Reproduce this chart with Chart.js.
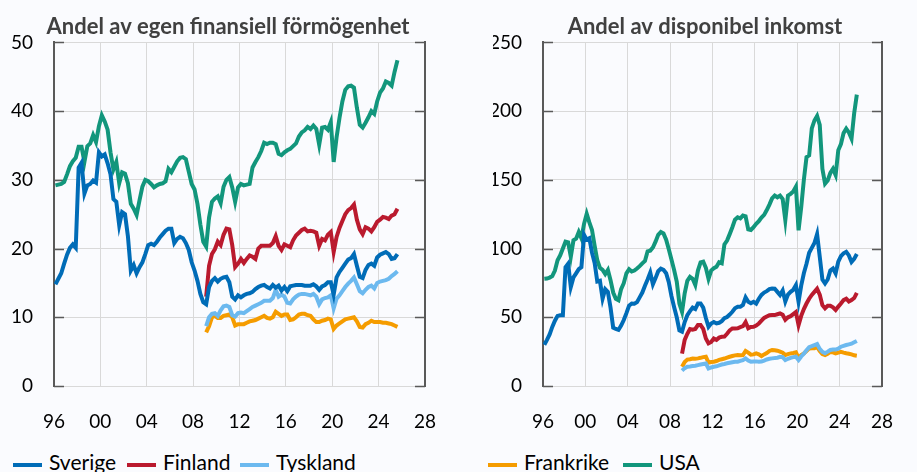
<!DOCTYPE html>
<html>
<head>
<meta charset="UTF-8">
<title>Andel av egen finansiell förmögenhet</title>
<script src="https://cdn.jsdelivr.net/npm/chart.js@4/dist/chart.umd.min.js"></script>
<style>
  body { margin: 0; background: #fafbfe; width: 917px; height: 472px; overflow: hidden; position: relative; font-family: Lato, sans-serif; }
  .box { position: absolute; top: 0; height: 440px; }
  .lg-line { position: absolute; top: 463px; width: 29px; height: 4px; }
  .lg-txt { position: absolute; top: 451px; font-size: 21px; line-height: 21px; color: #000; white-space: nowrap; }
</style>
</head>
<body>
<div class="box" style="left:0; width:460px"><canvas id="finCanvas"></canvas></div>
<div class="box" style="left:460px; width:457px"><canvas id="inkCanvas"></canvas></div>
<div id="legend"></div>
<script>

// kvartalsdata, första punkten 1996 kv1
var firstQuarter = 1996.125;
var xTickLabels = ['96', '00', '04', '08', '12', '16', '20', '24', '28'];
var seriesNames = ['Sverige', 'Finland', 'Tyskland', 'Frankrike', 'USA'];
var seriesColors = ['#006cb7', '#ba1a2e', '#6cb9ef', '#f59c00', '#12967c'];
var euStartIndex = 52; // Finland, Tyskland, Frankrike börjar 2009 kv1

// Andel av egen finansiell förmögenhet
var sverigeFin = [
  14.8, 15.6, 16.4, 17.8, 19.1, 20.1, 20.6, 20.1, 31.8, 32.5, 28.0, 29.2,
  29.4, 29.9, 29.6, 34.0, 33.4, 33.7, 32.4, 30.8, 27.2, 26.8, 23.4, 25.3,
  25.0, 21.8, 16.8, 17.6, 16.4, 17.3, 18.0, 19.2, 20.5, 20.7, 20.5, 21.0,
  21.6, 22.1, 22.6, 22.9, 22.9, 20.8, 21.4, 21.7, 21.5, 20.8, 19.8, 18.0,
  16.8, 15.3, 13.4, 12.2, 11.9, 14.4, 15.3, 15.7, 15.2, 15.6, 15.8, 15.9,
  15.1, 13.0, 12.6, 13.2, 12.9, 13.2, 13.4, 13.5, 13.7, 14.1, 14.4, 14.6,
  14.7, 14.4, 14.2, 14.7, 14.3, 14.6, 13.9, 14.4, 13.8, 14.5, 14.6, 14.7,
  14.7, 14.7, 14.6, 14.6, 14.6, 14.8, 14.5, 14.0, 14.5, 14.7, 15.1, 15.1,
  13.3, 15.8, 16.6, 17.2, 17.8, 18.4, 18.6, 19.2, 17.5, 15.9, 15.7, 16.9,
  17.6, 17.8, 17.5, 18.7, 19.1, 19.3, 19.5, 19.2, 18.5, 18.6, 19.2
];
var finlandFin = [
  13.0, 17.5, 19.2, 19.9, 21.0, 20.5, 22.0, 22.9, 22.8, 20.5, 17.3, 17.8,
  18.5, 17.9, 18.5, 19.0, 18.8, 18.5, 20.0, 20.4, 20.4, 20.4, 20.4, 20.8,
  21.8, 20.4, 19.8, 20.6, 20.4, 20.2, 21.2, 21.9, 22.3, 22.7, 22.9, 22.5,
  22.6, 22.5, 22.3, 20.4, 21.4, 21.2, 22.0, 22.4, 19.5, 21.7, 23.0, 24.0,
  25.0, 25.6, 25.9, 26.4, 24.2, 22.8, 22.1, 23.1, 22.9, 22.5, 23.1, 23.9,
  24.2, 24.6, 24.5, 24.3, 24.8, 25.0, 25.8
];
var tysklandFin = [
  8.7, 10.0, 10.5, 10.6, 10.2, 11.0, 11.6, 11.7, 11.5, 10.3, 10.1, 10.6,
  10.7, 10.6, 10.9, 11.2, 11.5, 11.7, 11.9, 12.1, 12.4, 12.4, 12.4, 12.8,
  14.0, 13.0, 13.3, 13.0, 12.1, 12.0, 12.6, 13.0, 13.3, 13.4, 13.4, 13.3,
  13.2, 13.4, 13.0, 11.9, 12.6, 12.8, 12.9, 13.2, 11.3, 12.7, 13.2, 13.8,
  14.4, 14.9, 15.3, 15.8, 14.8, 13.8, 13.5, 14.0, 14.4, 14.6, 14.2, 15.0,
  15.2, 15.3, 15.4, 15.6, 16.0, 16.3, 16.7
];
var frankrikeFin = [
  7.8, 8.7, 10.0, 10.2, 9.9, 9.9, 10.2, 10.3, 10.4, 10.0, 8.8, 9.0,
  9.0, 9.0, 9.2, 9.4, 9.5, 9.6, 9.8, 10.0, 10.2, 9.9, 9.8, 10.0,
  10.8, 10.5, 10.2, 10.4, 10.4, 9.6, 9.7, 10.0, 10.4, 10.5, 10.5, 10.3,
  10.2, 9.7, 9.3, 9.3, 9.5, 9.6, 9.8, 9.7, 8.3, 8.8, 9.1, 9.4,
  9.7, 9.8, 9.9, 10.0, 9.4, 8.6, 8.5, 9.0, 9.2, 9.5, 9.3, 9.3,
  9.3, 9.2, 9.2, 9.1, 9.0, 8.8, 8.6
];
var usaFin = [
  29.2, 29.3, 29.4, 29.7, 30.8, 32.0, 32.7, 33.2, 34.8, 34.8, 32.6, 34.9,
  35.3, 36.5, 35.5, 37.8, 39.4, 38.5, 37.3, 34.0, 31.5, 32.6, 29.5, 31.1,
  30.9, 29.5, 26.5, 25.8, 24.9, 27.0, 29.0, 30.0, 29.8, 29.4, 28.9, 29.2,
  29.4, 29.5, 29.8, 31.6, 31.1, 31.9, 32.7, 33.2, 33.3, 33.0, 31.2, 29.4,
  28.6, 26.5, 23.5, 21.0, 20.3, 24.5, 26.8, 27.3, 27.6, 26.6, 29.0, 30.0,
  30.4, 28.9, 26.8, 28.9, 29.4, 29.2, 29.3, 29.4, 31.8, 32.6, 33.3, 34.2,
  35.4, 35.2, 35.4, 35.4, 35.2, 33.8, 33.6, 34.0, 34.3, 34.5, 34.9, 35.3,
  36.3, 36.9, 37.2, 37.7, 37.4, 37.9, 37.4, 35.1, 37.6, 37.7, 37.3, 38.4,
  32.6, 36.2, 39.0, 41.4, 43.1, 43.6, 43.7, 43.4, 40.5, 38.0, 37.6, 38.3,
  39.1, 40.0, 39.6, 41.4, 42.7, 43.3, 44.3, 44.1, 43.7, 45.7, 47.4
];

// Andel av disponibel inkomst
var sverigeInk = [
  30.0, 33.5, 37.5, 43.0, 47.5, 51.0, 51.5, 51.5, 86.5, 89.0, 72.0, 79.0,
  82.0, 85.0, 86.5, 110.0, 106.5, 107.5, 97.0, 89.5, 76.0, 76.5, 63.6, 70.5,
  68.5, 57.0, 42.5, 41.5, 40.8, 44.0, 48.0, 53.0, 58.5, 60.0, 59.8, 61.0,
  64.5, 68.0, 73.0, 77.5, 82.5, 74.0, 78.5, 83.5, 85.4, 84.5, 82.0, 75.5,
  65.5, 57.5, 50.0, 40.5, 39.5, 46.5, 51.5, 54.5, 57.0, 56.0, 60.0, 60.0,
  57.0, 49.5, 43.1, 45.5, 46.5, 45.5, 46.0, 47.2, 49.3, 50.2, 52.0, 54.0,
  56.5, 57.6, 57.6, 59.0, 64.5, 61.3, 60.2, 61.3, 60.0, 63.5, 66.3, 68.0,
  69.0, 70.5, 70.9, 70.8, 68.5, 66.2, 69.5, 61.5, 66.5, 68.5, 70.0, 73.4,
  61.3, 73.0, 82.0, 89.0, 97.0, 100.5, 104.0, 110.5, 94.0, 77.5, 74.6, 77.5,
  84.0, 85.5, 82.0, 90.5, 94.5, 96.5, 97.6, 95.0, 90.3, 92.5, 96.0
];
var finlandInk = [
  23.5, 33.5, 38.0, 41.5, 41.0, 41.5, 44.3, 44.3, 41.5, 34.6, 31.0, 32.0,
  34.5, 33.6, 35.2, 35.8, 36.0, 38.0, 40.5, 41.9, 41.9, 42.0, 42.8, 43.5,
  46.5, 42.0, 43.0, 43.1, 44.0, 45.5, 47.5, 49.5, 50.5, 51.5, 51.6, 51.6,
  52.2, 52.8, 51.8, 48.2, 50.0, 50.8, 52.3, 53.8, 44.3, 51.0, 56.0, 60.0,
  63.5, 66.3, 68.5, 70.8, 66.5, 58.8, 56.5, 58.3, 58.3, 57.2, 55.3, 57.8,
  60.0, 62.5, 63.5, 61.5, 62.5, 64.0, 67.8
];
var tysklandInk = [
  11.2, 13.0, 14.0, 14.2, 14.5, 14.8, 15.2, 15.6, 16.0, 16.4, 12.8, 13.5,
  14.0, 14.3, 15.0, 15.6, 16.0, 16.5, 16.9, 17.3, 17.6, 17.7, 18.3, 18.8,
  20.1, 18.5, 17.7, 17.8, 17.9, 17.6, 17.8, 18.5, 19.3, 19.8, 20.1, 20.3,
  20.6, 21.2, 21.0, 18.9, 19.8, 20.5, 21.0, 21.3, 18.9, 21.5, 23.5, 26.0,
  28.3, 29.0, 29.8, 30.5, 27.0, 24.9, 23.9, 25.0, 26.2, 26.6, 26.5, 27.2,
  28.6, 29.2, 29.8, 30.3, 30.8, 31.8, 32.8
];
var frankrikeInk = [
  14.0, 17.5, 19.2, 19.5, 20.0, 19.8, 20.1, 20.5, 21.0, 21.3, 17.0, 17.5,
  17.7, 18.2, 19.0, 19.5, 20.0, 20.7, 21.3, 21.8, 22.3, 22.5, 22.3, 22.5,
  25.5, 24.3, 22.8, 23.0, 23.7, 23.0, 21.8, 23.0, 24.0, 25.5, 26.2, 26.0,
  25.7, 25.0, 24.2, 22.5, 23.2, 23.7, 24.0, 24.5, 20.5, 22.5, 23.7, 25.5,
  27.2, 27.4, 27.5, 28.4, 25.5, 23.2, 22.5, 23.5, 24.8, 24.5, 23.7, 24.3,
  24.9, 24.3, 23.8, 23.5, 23.0, 22.3, 22.0
];
var usaInk = [
  78.0, 78.2, 78.9, 80.0, 84.0, 91.5, 95.1, 100.0, 105.0, 104.5, 94.0, 106.0,
  107.2, 112.0, 107.5, 118.0, 125.3, 119.0, 113.5, 102.0, 91.5, 86.0, 84.5, 81.5,
  84.5, 77.0, 68.0, 63.4, 62.4, 70.5, 74.8, 82.0, 85.0, 83.3, 84.0, 85.5,
  87.2, 89.2, 91.0, 98.0, 98.5, 100.8, 105.0, 110.0, 112.0, 111.0, 106.5, 99.5,
  92.0, 84.5, 76.0, 60.0, 54.0, 67.5, 76.5, 79.4, 78.0, 73.5, 84.0, 90.0,
  90.5, 86.0, 78.0, 84.0, 85.7, 86.8, 90.0, 89.3, 103.0, 105.8, 110.5, 115.5,
  121.0, 122.8, 122.0, 124.0, 123.5, 114.0, 113.5, 115.5, 118.0, 120.0, 122.5, 124.5,
  128.0, 132.0, 136.5, 138.5, 137.3, 138.5, 136.0, 120.6, 138.5, 139.8, 141.5, 145.0,
  113.3, 130.0, 150.0, 166.5, 167.8, 187.5, 193.2, 196.5, 190.0, 158.0, 147.2, 149.5,
  155.0, 158.0, 153.5, 171.5, 176.0, 184.0, 187.2, 184.5, 180.0, 198.5, 212.0
];

function toPoints(values, startIndex) {
  return values.map(function(v, i) {
    return { x: firstQuarter + (startIndex + i) * 0.25, y: v };
  });
}

// korta mörka streck inåt vid y-ticks, båda sidor
var innerTicks = {
  id: 'innerTicks',
  beforeDatasetsDraw: function(chart) {
    var ctx = chart.ctx, area = chart.chartArea, ys = chart.scales.y;
    ctx.save();
    ctx.strokeStyle = '#595959';
    ctx.lineWidth = 1.5;
    ys.ticks.forEach(function(t) {
      var py = Math.round(ys.getPixelForValue(t.value)) + 0.5;
      ctx.beginPath();
      ctx.moveTo(area.left, py); ctx.lineTo(area.left + 10, py);
      ctx.moveTo(area.right - 10, py); ctx.lineTo(area.right, py);
      ctx.stroke();
    });
    ctx.restore();
  }
};

function makeChart(canvasId, titleText, yMax, yStep, seriesData, pad, yWidth, rightWidth) {
  var datasets = seriesData.map(function(s, i) {
    return {
      label: seriesNames[i],
      data: toPoints(s.values, s.start),
      borderColor: seriesColors[i],
      backgroundColor: seriesColors[i],
      borderWidth: 4,
      pointRadius: 0,
      tension: 0,
      fill: false
    };
  });
  return new Chart(document.getElementById(canvasId), {
    type: 'line',
    data: { datasets: datasets },
    plugins: [innerTicks],
    options: {
      responsive: true,
      maintainAspectRatio: false,
      animation: false,
      layout: { padding: pad },
      plugins: {
        legend: { display: false },
        tooltip: { enabled: false },
        title: {
          display: true,
          text: titleText,
          color: '#404040',
          font: { family: 'Lato', size: 22, weight: 'bold' },
          padding: { top: 14, bottom: 2 }
        }
      },
      scales: {
        x: {
          type: 'linear',
          min: 1996, max: 2028,
          grid: { color: '#d9d9d9', lineWidth: 1, drawTicks: false },
          border: { color: '#d9d9d9' },
          ticks: {
            stepSize: 4, padding: 24, color: '#000',
            font: { family: 'Lato', size: 19 },
            callback: function(v) { return xTickLabels[(v - 1996) / 4]; }
          },
          afterFit: function(s) { s.height = 54; }
        },
        y: {
          min: 0, max: yMax,
          grid: { color: '#d9d9d9', lineWidth: 1, drawTicks: false },
          border: { color: '#595959', width: 2 },
          ticks: { stepSize: yStep, padding: 21, color: '#000', font: { family: 'Lato', size: 19 } },
          afterFit: function(s) { s.width = yWidth; }
        },
        y2: {
          position: 'right',
          min: 0, max: yMax,
          grid: { drawOnChartArea: false, drawTicks: false },
          border: { color: '#595959', width: 2 },
          ticks: { display: false },
          afterFit: function(s) { s.width = rightWidth; }
        }
      }
    }
  });
}

makeChart('finCanvas', 'Andel av egen finansiell förmögenhet', 50, 10, [
  { values: sverigeFin, start: 0 },
  { values: finlandFin, start: euStartIndex },
  { values: tysklandFin, start: euStartIndex },
  { values: frankrikeFin, start: euStartIndex },
  { values: usaFin, start: 0 }
], { left: 0, right: 4, top: 0, bottom: 0 }, 54, 29);

makeChart('inkCanvas', 'Andel av disponibel inkomst', 250, 50, [
  { values: sverigeInk, start: 0 },
  { values: finlandInk, start: euStartIndex },
  { values: tysklandInk, start: euStartIndex },
  { values: frankrikeInk, start: euStartIndex },
  { values: usaInk, start: 0 }
], { left: 33, right: 0, top: 0, bottom: 0 }, 50, 14);

// gemensam förklaring längst ner
var legendLeft = [13, 127, 240, 488, 623];
var legend = document.getElementById('legend');
seriesNames.forEach(function(name, i) {
  var line = document.createElement('div');
  line.className = 'lg-line';
  line.style.left = legendLeft[i] + 'px';
  line.style.background = seriesColors[i];
  var txt = document.createElement('div');
  txt.className = 'lg-txt';
  txt.style.left = (legendLeft[i] + 36) + 'px';
  txt.textContent = name;
  legend.appendChild(line);
  legend.appendChild(txt);
});

</script>
</body>
</html>
